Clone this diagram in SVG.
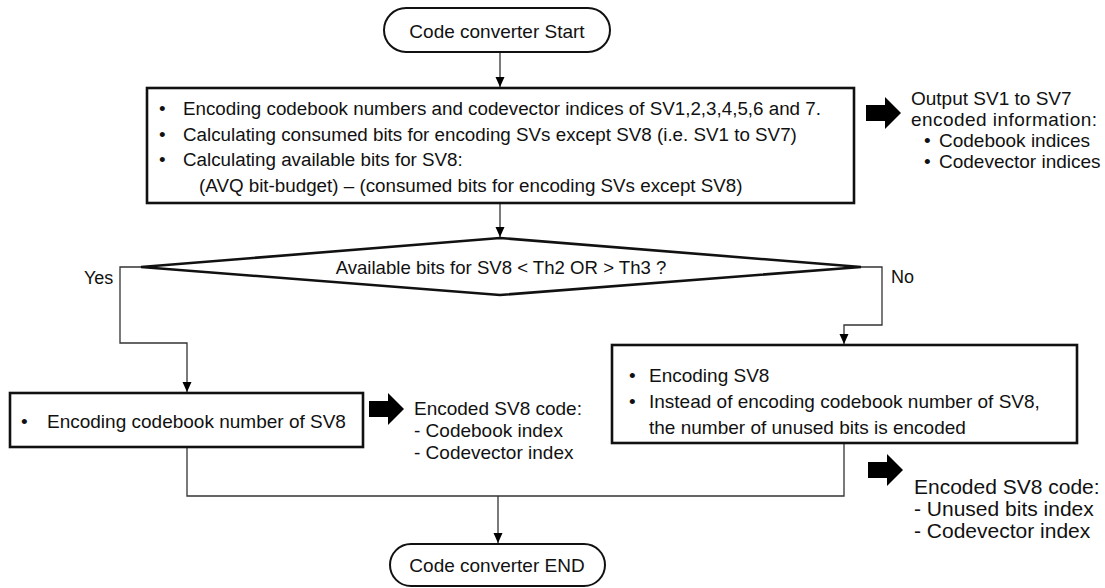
<svg xmlns="http://www.w3.org/2000/svg" width="1105" height="588" viewBox="0 0 1105 588" font-size="19">
<style>
text{font-family:"Liberation Sans",Arial,sans-serif;fill:#111}
.box{fill:#fff;stroke:#111;stroke-width:2.6}
.term{fill:#fff;stroke:#111;stroke-width:2}
.con{fill:none;stroke:#333;stroke-width:1.3}
</style>
<defs>
<marker id="ah" markerUnits="userSpaceOnUse" markerWidth="10" markerHeight="10" refX="10" refY="5" orient="auto">
<path d="M0,0.5 L10,5 L0,9.5 z" fill="#000"/>
</marker>
<path id="barrow" d="M0,8 H19 V0 L35,16 L19,32 V24 H0 z" fill="#000"/>
</defs>
<rect width="1105" height="588" fill="#fff"/>
<g id="connectors">
<path class="con" d="M500,52 V87" marker-end="url(#ah)"/>
<path class="con" d="M500,203 V237" marker-end="url(#ah)"/>
<path class="con" d="M141,267 H120 V343 H187 V392" marker-end="url(#ah)"/>
<path class="con" d="M861,267 H882 V325 H844 V344" marker-end="url(#ah)"/>
<path class="con" d="M187,447 V496 H844 V443"/>
<path class="con" d="M498,496 V543" marker-end="url(#ah)"/>
<text x="84" y="284" font-size="18">Yes</text>
<text x="891" y="283" font-size="18">No</text>
</g>
<g id="start">
<rect class="term" x="384" y="8" width="226" height="44" rx="22" ry="22"/>
<text x="497" y="38" text-anchor="middle">Code converter Start</text>
</g>
<g id="box1" font-size="18.8">
<rect class="box" x="147" y="88" width="707" height="115"/>
<text x="159" y="115">•</text><text x="183" y="115">Encoding codebook numbers and codevector indices of SV1,2,3,4,5,6  and 7.</text>
<text x="159" y="141">•</text><text x="183" y="141">Calculating consumed bits for encoding SVs except SV8 (i.e. SV1 to SV7)</text>
<text x="159" y="166">•</text><text x="183" y="166">Calculating available bits for SV8:</text>
<text x="199" y="192">(AVQ bit-budget) – (consumed bits for encoding SVs except SV8)</text>
</g>
<g id="out1" font-size="19">
<use href="#barrow" x="866" y="97"/>
<text x="911" y="105">Output SV1 to SV7</text>
<text x="911" y="126" textLength="186">encoded information:</text>
<text x="924" y="147">•</text><text x="939" y="147">Codebook indices</text>
<text x="924" y="168">•</text><text x="939" y="168">Codevector indices</text>
</g>
<g id="decision">
<polygon class="box" points="500,238 861,267 500,295 141,267"/>
<text x="501" y="274" text-anchor="middle" font-size="18.6">Available bits for SV8 &lt; Th2 OR &gt; Th3 ?</text>
</g>
<g id="box2">
<rect class="box" x="10" y="393" width="353" height="54"/>
<text x="21" y="428">•</text><text x="47" y="428">Encoding codebook number of SV8</text>
</g>
<g id="out2">
<use href="#barrow" x="369" y="393"/>
<text x="414" y="415">Encoded SV8 code:</text>
<text x="414" y="437">- Codebook index</text>
<text x="414" y="459">- Codevector index</text>
</g>
<g id="box3">
<rect class="box" x="612" y="345" width="465" height="98"/>
<text x="629" y="382">•</text><text x="649" y="382">Encoding SV8</text>
<text x="629" y="408">•</text><text x="649" y="408">Instead of encoding codebook number of SV8,</text>
<text x="649" y="434">the number of unused bits is encoded</text>
</g>
<g id="out3" font-size="21">
<use href="#barrow" x="868" y="454"/>
<text x="914" y="494">Encoded SV8 code:</text>
<text x="914" y="516">- Unused bits index</text>
<text x="914" y="538">- Codevector index</text>
</g>
<g id="end">
<rect class="term" x="390" y="544" width="215" height="42" rx="21" ry="21"/>
<text x="497" y="572" text-anchor="middle">Code converter END</text>
</g>
</svg>
